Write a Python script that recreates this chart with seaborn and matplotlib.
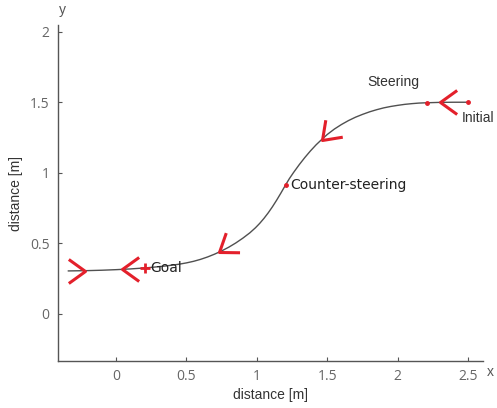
import numpy as np
import pandas as pd
import matplotlib
matplotlib.use('Agg')
import matplotlib.pyplot as plt
import seaborn as sns
from matplotlib.markers import MarkerStyle
from matplotlib.path import Path
from matplotlib.transforms import Affine2D

# Path of the vehicle, from Initial to Goal and beyond
path_x = [2.50, 2.40, 2.30, 2.20, 2.15, 2.10, 2.05, 2.00, 1.95, 1.90, 1.85, 1.80,
          1.75, 1.70, 1.65, 1.60, 1.55, 1.50, 1.46, 1.42, 1.38, 1.34, 1.30, 1.26,
          1.23, 1.20, 1.17, 1.14, 1.11, 1.08, 1.05, 1.02, 0.99, 0.95, 0.90, 0.85,
          0.80, 0.75, 0.70, 0.65, 0.60, 0.55, 0.50, 0.45, 0.40, 0.35, 0.30, 0.25,
          0.20, 0.10, 0.00, -0.10, -0.21, -0.34]
path_y = [1.500, 1.500, 1.499, 1.496, 1.494, 1.490, 1.485, 1.478, 1.470, 1.460, 1.447, 1.432,
          1.414, 1.394, 1.370, 1.342, 1.310, 1.272, 1.236, 1.198, 1.155, 1.108, 1.057, 1.002,
          0.958, 0.908, 0.856, 0.806, 0.759, 0.716, 0.677, 0.642, 0.611, 0.575, 0.537, 0.503,
          0.473, 0.447, 0.424, 0.404, 0.387, 0.373, 0.362, 0.353, 0.346, 0.340, 0.335, 0.330,
          0.326, 0.319, 0.314, 0.310, 0.307, 0.305]

# Key events on the path
event_names = ['Initial', 'Steering', 'Counter-steering', 'Goal']
event_x = [2.50, 2.205, 1.204, 0.205]
event_y = [1.500, 1.496, 0.914, 0.326]

# Direction arrows (chevrons): tip position and heading in degrees
arrow_x = [2.30, 1.46, 0.73, 0.04, -0.22]
arrow_y = [1.499, 1.236, 0.439, 0.316, 0.307]
arrow_dir = [180, 225, 215, 180, 0]

df = pd.DataFrame({'x': path_x, 'y': path_y})

sns.set_style('white')
plt.rcParams['font.family'] = ['Liberation Sans', 'DejaVu Sans']

fig = plt.figure(figsize=(4.97, 4.08), dpi=100)
ax = fig.add_axes([0.1167, 0.1152, 0.8551, 0.8235])

sns.lineplot(data=df, x='x', y='y', sort=False, color='#505050', linewidth=1.0, ax=ax)

red = '#e3202b'
# event markers
ax.plot(event_x[:3], event_y[:3], ls='none', marker='o', ms=2.5, color=red, zorder=4)
ax.plot(event_x[3], event_y[3], ls='none', marker='+', ms=7, mew=2, color=red, zorder=4)

# chevrons
chev = Path([(1.0, 0.72), (0.0, 0.0), (1.0, -0.72)], [Path.MOVETO, Path.LINETO, Path.LINETO])
for x, y, d in zip(arrow_x, arrow_y, arrow_dir):
    m = MarkerStyle(chev, transform=Affine2D().rotate_deg(d - 180))
    ax.plot(x, y, ls='none', marker=m, ms=24, mfc='none', mec=red, mew=2.2, zorder=5)

# labels
ax.text(1.24, 0.914, 'Counter-steering', fontsize=10, family='DejaVu Sans',
        color='#222222', va='center', ha='left')
ax.text(0.245, 0.325, 'Goal', fontsize=10, family='DejaVu Sans',
        color='#222222', va='center', ha='left')
ax.text(1.97, 1.64, 'Steering', fontsize=10, color='#333333', va='center', ha='center')
ax.text(2.456, 1.388, 'Initial', fontsize=10, color='#333333', va='center', ha='left',
        clip_on=False)

ax.set_xlim(-0.412, 2.605)
ax.set_ylim(-0.333, 2.047)
ax.set_xticks([0, 0.5, 1, 1.5, 2, 2.5])
ax.set_xticklabels(['0', '0.5', '1', '1.5', '2', '2.5'])
ax.set_yticks([0, 0.5, 1, 1.5, 2])
ax.set_yticklabels(['0', '0.5', '1', '1.5', '2'])

for s in ['top', 'right']:
    ax.spines[s].set_visible(False)
for s in ['left', 'bottom']:
    ax.spines[s].set_color('#555555')
    ax.spines[s].set_linewidth(1.0)
ax.tick_params(left=True, bottom=True, direction='in', length=3, width=0.8, color='#555555',
               labelcolor='#666666', labelsize=10, pad=6)
for lab in ax.get_xticklabels() + ax.get_yticklabels():
    lab.set_family('Open Sans')

ax.set_xlabel('distance [m]', fontsize=10, color='#333333', labelpad=3)
ax.set_ylabel('distance [m]', fontsize=10, color='#333333', labelpad=5)

fig.text(490 / 497, 1 - 372 / 408, 'x', fontsize=10, color='#555555', va='center', ha='center')
fig.text(62 / 497, 1 - 10 / 408, 'y', fontsize=10, color='#555555', va='center', ha='center')

fig.savefig('out.png', dpi=100, facecolor='white')
